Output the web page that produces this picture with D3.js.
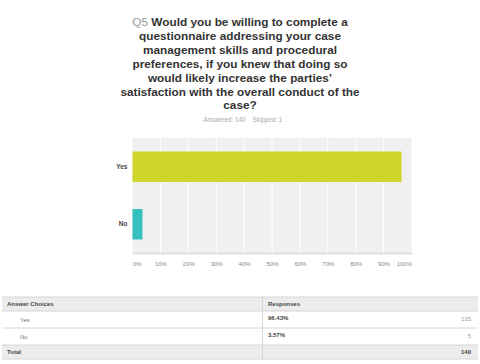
<!DOCTYPE html>
<html>
<head>
<meta charset="utf-8">
<script src="https://cdn.jsdelivr.net/npm/d3@7"></script>
<style>
  body { margin: 0; background: #fff; }
  svg { display: block; font-family: "Liberation Sans", Arial, Helvetica, sans-serif; }
</style>
</head>
<body>
<svg width="480" height="364"></svg>
<script>
// **** Data ****
var questionNo = "Q5";
var titleLines = [
    "Would you be willing to complete a",
    "questionnaire addressing your case",
    "management skills and procedural",
    "preferences, if you knew that doing so",
    "would likely increase the parties\u2019",
    "satisfaction with the overall conduct of the",
    "case?"
];
var answered = 140;
var skipped = 1;
var categories = ["Yes", "No"];
var percents = [96.43, 3.57];
var counts = [135, 5];
var barColors = ["#cfd62b", "#35c0bf"];
var tickValues = [0, 10, 20, 30, 40, 50, 60, 70, 80, 90, 100];

var svg = d3.select('svg');

// **** Title ****
titleLines.forEach(function (line, i) {
    var t = svg.append('text')
        .attr('x', 240)
        .attr('y', 26 + i * 13.9)
        .attr('text-anchor', 'middle')
        .attr('font-size', '11.8px')
        .attr('font-weight', 'bold')
        .attr('fill', '#333');
    if (i === 0) {
        t.append('tspan').attr('fill', '#999').attr('font-weight', 'normal').text(questionNo + ' ');
    }
    t.append('tspan').text(line);
});

svg.append('text')
    .attr('x', 243).attr('y', 122)
    .attr('text-anchor', 'middle')
    .attr('font-size', '6.3px')
    .attr('fill', '#aaa')
    .text('Answered: ' + answered + '\u00a0\u00a0\u00a0\u00a0Skipped: ' + skipped);

// **** Scales ****
var xScale = d3.scaleLinear().domain([0, 100]).range([132.5, 411.5]);
var yScale = d3.scaleBand().domain(categories).range([138, 253]).paddingInner(0.47).paddingOuter(0.235);

// plot background
svg.append('rect')
    .attr('x', xScale(0)).attr('y', 138)
    .attr('width', xScale(100) - xScale(0)).attr('height', 253 - 138)
    .attr('fill', '#f0f0f0');

// gridlines
svg.append('g')
    .selectAll('line')
    .data(tickValues.slice(1, -1))
    .join('line')
    .attr('x1', function (d) { return xScale(d); })
    .attr('x2', function (d) { return xScale(d); })
    .attr('y1', 138).attr('y2', 253)
    .attr('stroke', '#fff').attr('stroke-width', 1);

// bars
svg.append('g')
    .selectAll('rect')
    .data(categories)
    .join('rect')
    .attr('x', xScale(0))
    .attr('y', function (d) { return yScale(d); })
    .attr('width', function (d, i) { return xScale(percents[i]) - xScale(0); })
    .attr('height', yScale.bandwidth())
    .attr('fill', function (d, i) { return barColors[i]; });

// x axis
var xAxis = svg.append('g')
    .attr('transform', 'translate(0,253)')
    .call(d3.axisBottom(xScale).tickValues(tickValues).tickSize(0).tickPadding(9)
        .tickFormat(function (d) { return d + '%'; }));
xAxis.select('.domain').attr('stroke', '#d8d8d8').attr('stroke-width', 1.5);
xAxis.selectAll('text')
    .attr('font-size', '6px')
    .attr('fill', '#888')
    .attr('font-family', '"Liberation Sans", Arial, sans-serif')
    .attr('text-anchor', function (d) { return d === 0 ? 'start' : d === 100 ? 'end' : 'middle'; });

// y axis labels
var yAxis = svg.append('g')
    .attr('transform', 'translate(132.5,0)')
    .call(d3.axisLeft(yScale).tickSize(0).tickPadding(5));
yAxis.select('.domain').remove();
yAxis.selectAll('text')
    .attr('font-size', '6.5px')
    .attr('font-weight', 'bold')
    .attr('fill', '#444')
    .attr('font-family', '"Liberation Sans", Arial, sans-serif');

// **** Table ****
var rowTops = [297, 311, 328, 345, 359];
var tLeft = 2, tRight = 478, tDiv = 262.5;

svg.append('rect').attr('x', tLeft).attr('y', rowTops[0])
    .attr('width', tRight - tLeft).attr('height', rowTops[1] - rowTops[0]).attr('fill', '#ececec');
svg.append('rect').attr('x', tLeft).attr('y', rowTops[3])
    .attr('width', tRight - tLeft).attr('height', rowTops[4] - rowTops[3]).attr('fill', '#ececec');

rowTops.forEach(function (y) {
    svg.append('line').attr('x1', tLeft).attr('x2', tRight).attr('y1', y).attr('y2', y)
        .attr('stroke', '#d6d6d6').attr('stroke-width', 1);
});
svg.append('line').attr('x1', tDiv).attr('x2', tDiv).attr('y1', rowTops[0]).attr('y2', rowTops[4])
    .attr('stroke', '#d6d6d6').attr('stroke-width', 1);

function cell(x, y, txt, opts) {
    svg.append('text')
        .attr('x', x).attr('y', y)
        .attr('font-size', '6px')
        .attr('font-weight', opts.bold ? 'bold' : 'normal')
        .attr('fill', opts.color || '#444')
        .attr('text-anchor', opts.anchor || 'start')
        .text(txt);
}

cell(7, 306, 'Answer Choices', { bold: true });
cell(268, 306, 'Responses', { bold: true });
categories.forEach(function (c, i) {
    var mid = (rowTops[i + 1] + rowTops[i + 2]) / 2 + 2;
    cell(20, mid, c, { color: '#777' });
    cell(268, mid - 1.5, percents[i].toFixed(2) + '%', { bold: true });
    cell(471, mid - 1, counts[i], { color: '#999', anchor: 'end' });
});
cell(7, 354, 'Total', { bold: true });
cell(471, 354, d3.sum(counts), { bold: true, anchor: 'end' });
</script>
</body>
</html>
